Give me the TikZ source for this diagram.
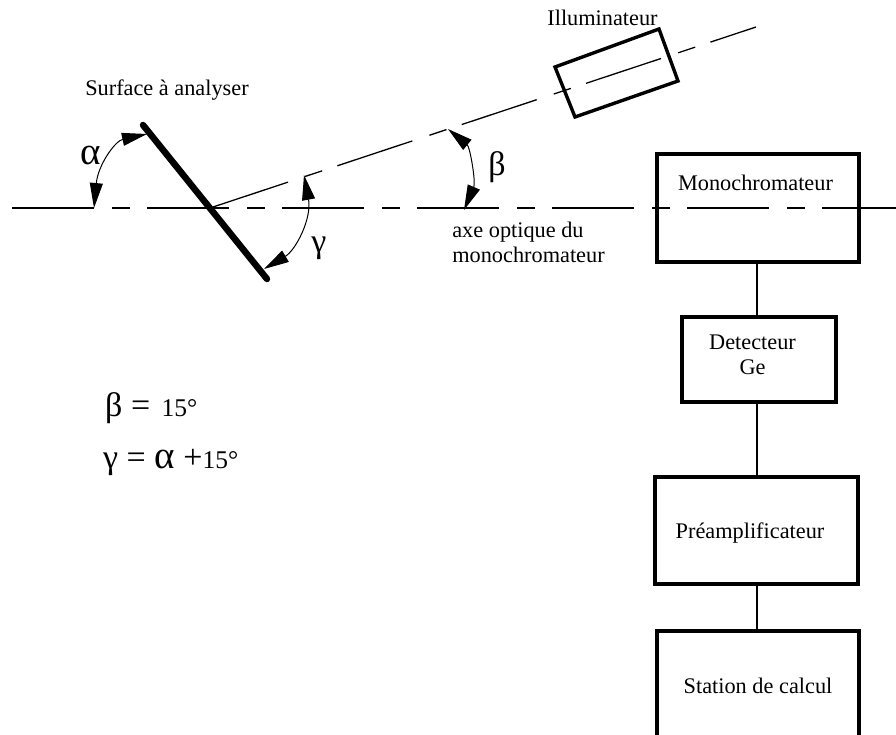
\documentclass[tikz,border=0pt]{standalone}
\usepackage{fontspec}
\setmainfont{Liberation Serif}
\usetikzlibrary{arrows.meta, calc}

\newcommand{\alphaglyph}{{\fontsize{39}{40}\selectfont α}}

\begin{document}
\begin{tikzpicture}[
    x=1pt, y=-1pt,
    % Node styles
    instrument/.style={
        rectangle, draw=black, line width=3.4pt, inner sep=0pt
    },
    caption/.style={font=\fontsize{22.3}{25}\selectfont, align=center, inner sep=0pt},
    greek/.style={font=\fontsize{34}{38}\selectfont, inner sep=0pt},
    equation/.style={font=\fontsize{34}{38}\selectfont, anchor=base west, inner sep=0pt},
    link/.style={line width=1.3pt},
    axis/.style={line width=1.3pt, dash pattern=on 82pt off 18pt on 18pt off 17pt},
    beam/.style={line width=1.3pt, dash pattern=on 79pt off 18pt on 18pt off 16pt},
    anglearrow/.style={{Triangle[length=25pt,width=13pt]}-{Triangle[length=25pt,width=13pt]}, line width=1pt}
]

\clip (0,0) rectangle (896,734);

% ============================================================
% Optical axis and illumination beam
% ============================================================

\coordinate (axisstart) at (12,208);
\coordinate (axisend) at (896,208);
\coordinate (pivot) at (213,207);
\coordinate (beamend) at (756,27);

\draw[axis] (axisstart) -- (axisend);
\draw[beam] (pivot) -- (beamend);

% -- Surface --
\coordinate (surftop) at (143,125);
\coordinate (surfbot) at (267,279);
\draw[line width=6.5pt, line cap=round] (surftop) -- (surfbot);

% -- Illuminateur --
\coordinate (illa) at (555,67);
\coordinate (illb) at (659,29);
\coordinate (illc) at (678,81);
\coordinate (illd) at (575,117);
\draw[line width=3.4pt, line join=miter] (illa) -- (illb) -- (illc) -- (illd) -- cycle;

% ============================================================
% Instrument chain
% ============================================================

\node[instrument, minimum width=202pt, minimum height=108pt] (mono) at (758,208) {};
\node[instrument, minimum width=154pt, minimum height=85pt] (detect) at (759,359.5) {};
\node[instrument, minimum width=203pt, minimum height=107pt] (preamp) at (756.5,530.5) {};
\node[instrument, minimum width=202pt, minimum height=108pt] (station) at (758,685) {};

\coordinate (spine) at (757,0);
\draw[link] (mono.south -| spine) -- (detect.north -| spine);
\draw[link] (detect.south -| spine) -- (preamp.north -| spine);
\draw[link] (preamp.south -| spine) -- (station.north -| spine);

% -- Box texts --
\node[caption] (monotext) at (755.5,183) {Monochromateur};
\node[caption] (detecttext) at (752.5,355) {Detecteur\\Ge};
\node[caption] (preamptext) at (750,533) {Préamplificateur};
\node[caption] (stationtext) at (758,686) {Station de calcul};

% -- Other texts --
\node[caption] (surftext) at (167,90) {Surface à analyser};
\node[caption] (illtext) at (602.5,18) {Illuminateur};
\node[caption, align=left] (axistext) at (528.5,242) {axe optique du\\monochromateur};

% ============================================================
% Angles
% ============================================================

\coordinate (alphaa) at (94,208);
\coordinate (alphab) at (147,134);
\coordinate (gammaa) at (304,175);
\coordinate (gammab) at (264,269);
\coordinate (betaa) at (448,129);
\coordinate (betab) at (464,210);

\draw[anglearrow] (alphaa) .. controls (98,165) and (115,141) .. (alphab);
\draw[anglearrow] (gammaa) .. controls (312,218) and (296,250) .. (gammab);
\draw[anglearrow] (betaa) .. controls (470,147) and (476,182) .. (betab);

\node[greek] (alphatext) at (91,155) {\alphaglyph};
\node[greek] (gammatext) at (319,248) {γ};
\node[greek] (betatext) at (497,167) {β};

% -- Relations --
\node[equation] (eqbeta) at (105,416) {β = \hspace{3pt}{\fontsize{25.5}{27}\selectfont 15°}};
\node[equation] (eqgamma) at (103,468) {γ = \alphaglyph\ +{\fontsize{25.5}{27}\selectfont 15°}};

\end{tikzpicture}
\end{document}
